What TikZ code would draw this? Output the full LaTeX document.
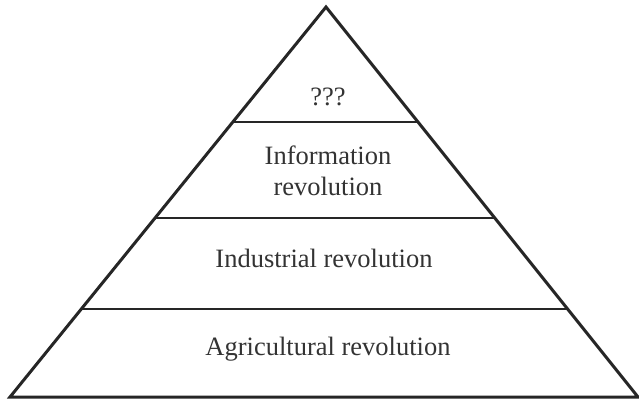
\documentclass[tikz,border=0pt]{standalone}
\usepackage{fontspec}
\setmainfont{Liberation Serif}
\usetikzlibrary{calc}
\tikzset{
    side/.style={line width=3pt, line join=miter, color=black!85},
    tier/.style={line width=2.2pt, color=black!85},
    label/.style={anchor=base, font=\fontsize{26.5}{31}\selectfont, text=black!80, inner sep=0pt},
}

\begin{document}
\begin{tikzpicture}[x=1pt, y=-1pt]
    \useasboundingbox (0,0) rectangle (639,400);
    \coordinate (apex) at (326,7);
    \coordinate (bl) at (10,397);
    \coordinate (br) at (638,397);
    \draw[side] (apex) -- (bl) -- (br) -- cycle;
    % horizontal dividers between the tiers
    \foreach \t/\n in {0.2956/a, 0.54/b, 0.774/c}{
        \coordinate (l\n) at ($(apex)!\t!(bl)$);
        \coordinate (r\n) at ($(apex)!\t!(br)$);
        \draw[tier] (l\n) -- (r\n);
    }
	%\draw[red] (0,0) rectangle (639,400);
    \node[label] (top) at (328,105) {???};
    \node[label] (info) at (328,164) {Information};
    \node[label] (inforev) at (328,195) {revolution};
    \node[label] (indus) at (324,267) {Industrial revolution};
    \node[label] (agri) at (328,355) {Agricultural revolution};
\end{tikzpicture}
\end{document}
